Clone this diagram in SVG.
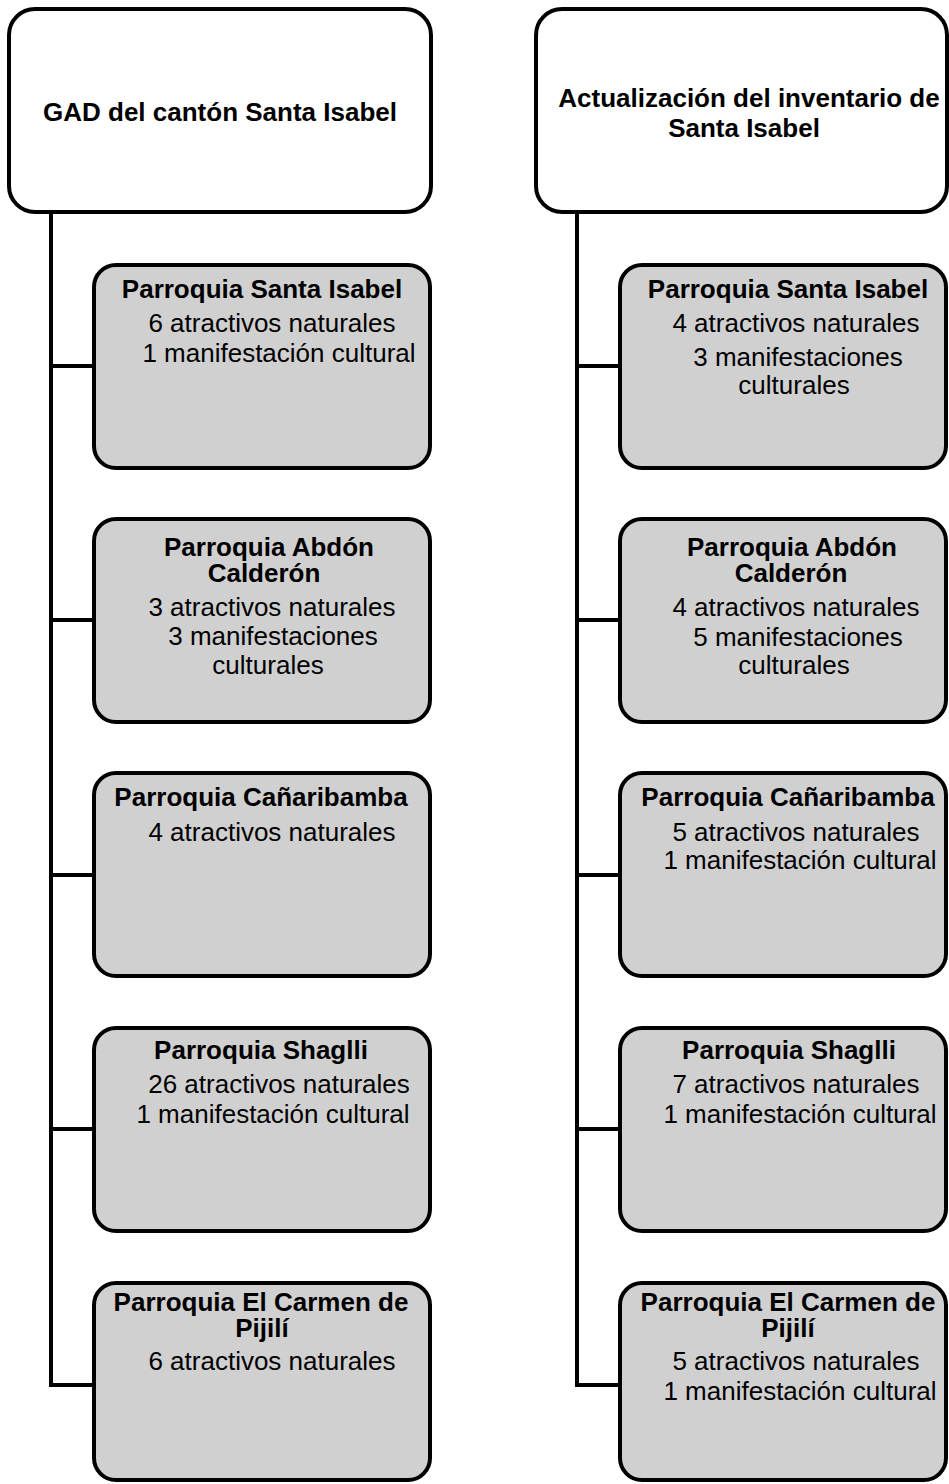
<svg xmlns="http://www.w3.org/2000/svg" width="949" height="1484" viewBox="0 0 949 1484">
<style>
.top{fill:#ffffff;stroke:#000;stroke-width:4}
.box{fill:#d0d0d0;stroke:#000;stroke-width:4}
.con{fill:none;stroke:#000;stroke-width:4}
text{font-family:"Liberation Sans",Arial,sans-serif;font-size:26px;fill:#000;text-anchor:middle}
.b{font-weight:bold}
</style>
<rect width="949" height="1484" fill="#ffffff"/>
<g id="connectors">
<path class="con" d="M51 212V1385H94M51 366H94M51 620H94M51 875H94M51 1129H94"/>
<path class="con" d="M577 212V1385H620M577 366H620M577 620H620M577 875H620M577 1129H620"/>
</g>
<g id="root-left">
<rect class="top" x="9" y="9" width="422" height="203" rx="26"/>
<text class="b" x="220" y="121">GAD del cantón Santa Isabel</text>
</g>
<g id="root-right">
<rect class="top" x="536" y="9" width="411" height="203" rx="26"/>
<text class="b" x="749" y="107">Actualización del inventario de</text>
<text class="b" x="744" y="137">Santa Isabel</text>
</g>
<g id="l1">
<rect class="box" x="94" y="265" width="336" height="203" rx="22"/>
<text class="b" x="262" y="298">Parroquia Santa Isabel</text>
<text x="272" y="332">6 atractivos naturales</text>
<text x="279" y="362">1 manifestación cultural</text>
</g>
<g id="l2">
<rect class="box" x="94" y="519" width="336" height="203" rx="22"/>
<text class="b" x="269" y="556">Parroquia Abdón</text>
<text class="b" x="264" y="582">Calderón</text>
<text x="272" y="616">3 atractivos naturales</text>
<text x="273" y="645">3 manifestaciones</text>
<text x="268" y="674">culturales</text>
</g>
<g id="l3">
<rect class="box" x="94" y="773" width="336" height="203" rx="22"/>
<text class="b" x="261" y="806">Parroquia Cañaribamba</text>
<text x="272" y="841">4 atractivos naturales</text>
</g>
<g id="l4">
<rect class="box" x="94" y="1028" width="336" height="203" rx="22"/>
<text class="b" x="261" y="1059">Parroquia Shaglli</text>
<text x="279" y="1093">26 atractivos naturales</text>
<text x="273" y="1123">1 manifestación cultural</text>
</g>
<g id="l5">
<rect class="box" x="94" y="1283" width="336" height="197" rx="22"/>
<text class="b" x="261" y="1311">Parroquia El Carmen de</text>
<text class="b" x="262" y="1337">Pijilí</text>
<text x="272" y="1370">6 atractivos naturales</text>
</g>
<g id="r1">
<rect class="box" x="620" y="265" width="326" height="203" rx="22"/>
<text class="b" x="788" y="298">Parroquia Santa Isabel</text>
<text x="796" y="332">4 atractivos naturales</text>
<text x="798" y="366">3 manifestaciones</text>
<text x="794" y="394">culturales</text>
</g>
<g id="r2">
<rect class="box" x="620" y="519" width="326" height="203" rx="22"/>
<text class="b" x="792" y="556">Parroquia Abdón</text>
<text class="b" x="791" y="582">Calderón</text>
<text x="796" y="616">4 atractivos naturales</text>
<text x="798" y="646">5 manifestaciones</text>
<text x="794" y="674">culturales</text>
</g>
<g id="r3">
<rect class="box" x="620" y="773" width="326" height="203" rx="22"/>
<text class="b" x="788" y="806">Parroquia Cañaribamba</text>
<text x="796" y="841">5 atractivos naturales</text>
<text x="800" y="869">1 manifestación cultural</text>
</g>
<g id="r4">
<rect class="box" x="620" y="1028" width="326" height="203" rx="22"/>
<text class="b" x="789" y="1059">Parroquia Shaglli</text>
<text x="796" y="1093">7 atractivos naturales</text>
<text x="800" y="1123">1 manifestación cultural</text>
</g>
<g id="r5">
<rect class="box" x="620" y="1283" width="326" height="197" rx="22"/>
<text class="b" x="788" y="1311">Parroquia El Carmen de</text>
<text class="b" x="788" y="1337">Pijilí</text>
<text x="796" y="1370">5 atractivos naturales</text>
<text x="800" y="1400">1 manifestación cultural</text>
</g>
</svg>
